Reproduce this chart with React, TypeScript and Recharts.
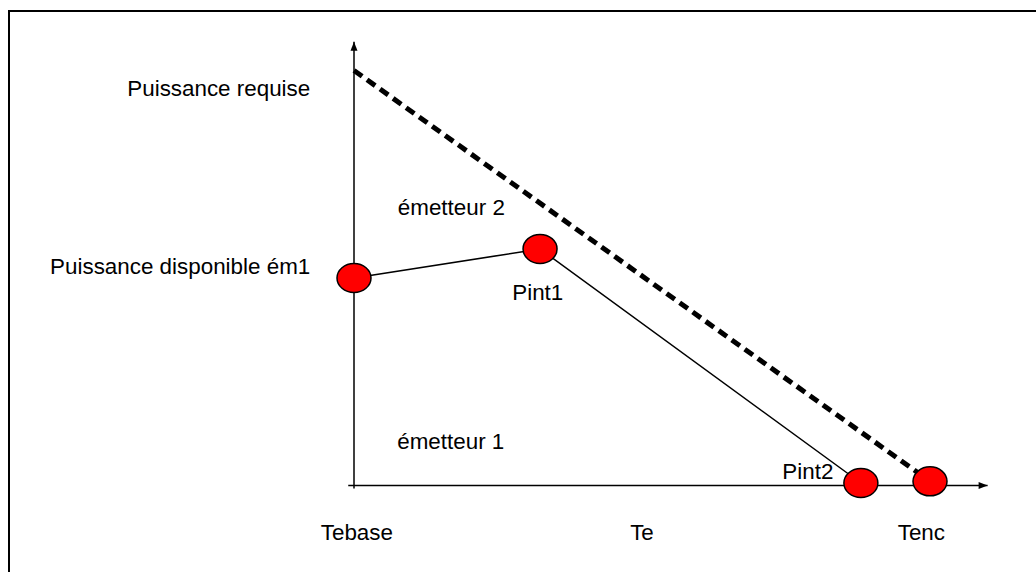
import React from 'react';
import { ScatterChart, Scatter, XAxis, YAxis, ReferenceDot } from 'recharts';

const FONT = '"Liberation Sans", Arial, Helvetica, sans-serif';

// Te axis: Tebase = 0, Tenc = 10 ; power axis: required power at Tebase = 100
const requiredPower = [
  { x: 0, y: 100 },
  { x: 10, y: 1 },
];
const emitter1Power = [
  { x: 0, y: 50 },
  { x: 3.23, y: 57 },
  { x: 8.8, y: 0.6 },
];
const keyPoints = [
  { x: 0, y: 50 },
  { x: 3.23, y: 57 },
  { x: 8.8, y: 0.6 },
  { x: 10, y: 1 },
];
const xAxisPts = [
  { x: -0.1, y: 0 },
  { x: 11, y: 0 },
];
const yAxisPts = [
  { x: 0, y: -0.7 },
  { x: 0, y: 106.9 },
];

const xTicks = [0.05, 5, 9.85];
const xTickLabels = ['Tebase', 'Te', 'Tenc'];
const yTicks = [52.9, 95.8];
const yTickLabels = ['Puissance disponible ém1', 'Puissance requise'];

const annotations = [
  { x: 1.69, y: 67.1, text: 'émetteur 2' },
  { x: 1.68, y: 10.5, text: 'émetteur 1' },
  { x: 3.19, y: 46.4, text: 'Pint1' },
  { x: 7.88, y: 3.3, text: 'Pint2' },
];

const txt = { fontSize: 22.4, fontFamily: FONT, fill: '#000' };

const XTick = ({ x, y, payload }: any) => (
  <text x={x} y={y + 52} textAnchor="middle" {...txt}>
    {xTickLabels[xTicks.indexOf(payload.value)]}
  </text>
);

const YTick = ({ x, y, payload }: any) => (
  <text x={x - 38} y={y + 8} textAnchor="end" {...txt}>
    {yTickLabels[yTicks.indexOf(payload.value)]}
  </text>
);

const xArrow = (p: any) =>
  p.payload.x === xAxisPts[1].x ? (
    <polygon points={`${p.cx},${p.cy} ${p.cx - 9},${p.cy - 3.5} ${p.cx - 9},${p.cy + 3.5}`} fill="#000" />
  ) : (
    <g />
  );

const yArrow = (p: any) =>
  p.payload.y === yAxisPts[1].y ? (
    <polygon points={`${p.cx},${p.cy} ${p.cx - 3.5},${p.cy + 9} ${p.cx + 3.5},${p.cy + 9}`} fill="#000" />
  ) : (
    <g />
  );

const Ellipse = (p: any) => (
  <ellipse cx={p.cx} cy={p.cy} rx={17} ry={14.5} fill="#ff0000" stroke="#000" strokeWidth={1.5} />
);

const Nothing = () => <g />;

export default function App() {
  return (
    <div style={{ position: 'absolute', left: 0, top: 0, width: 1036, height: 572, overflow: 'hidden', background: '#fff' }}>
      <div
        style={{
          position: 'absolute',
          left: 8,
          top: 10,
          width: 1028,
          height: 562,
          boxSizing: 'border-box',
          borderLeft: '2px solid #000',
          borderTop: '2px solid #000',
        }}
      />
      <div style={{ position: 'absolute', left: 0, top: 0 }}>
        <ScatterChart width={1036} height={572} margin={{ top: 41.45, right: 45.52, bottom: 0, left: 0 }}>
          <XAxis
            type="number"
            dataKey="x"
            domain={[-0.1, 11.05]}
            ticks={xTicks}
            interval={0}
            axisLine={false}
            tickLine={false}
            tickSize={0}
            tickMargin={0}
            height={83.6}
            tick={XTick}
          />
          <YAxis
            type="number"
            dataKey="y"
            domain={[-0.7, 107]}
            ticks={yTicks}
            interval={0}
            axisLine={false}
            tickLine={false}
            tickSize={0}
            tickMargin={0}
            width={348.24}
            tick={YTick}
          />
          <Scatter data={xAxisPts} line={{ stroke: '#000', strokeWidth: 1.5 }} shape={xArrow} isAnimationActive={false} />
          <Scatter data={yAxisPts} line={{ stroke: '#000', strokeWidth: 1.5 }} shape={yArrow} isAnimationActive={false} />
          <Scatter
            data={requiredPower}
            line={{ stroke: '#000', strokeWidth: 5, strokeDasharray: '10 6' }}
            shape={Nothing}
            isAnimationActive={false}
          />
          <Scatter data={emitter1Power} line={{ stroke: '#000', strokeWidth: 1.5 }} shape={Nothing} isAnimationActive={false} />
          <Scatter data={keyPoints} shape={Ellipse} isAnimationActive={false} />
          {annotations.map((a) => (
            <ReferenceDot
              key={a.text}
              x={a.x}
              y={a.y}
              r={0}
              shape={(p: any) => (
                <text x={p.cx} y={p.cy} textAnchor="middle" dominantBaseline="central" {...txt}>
                  {a.text}
                </text>
              )}
            />
          ))}
        </ScatterChart>
      </div>
    </div>
  );
}
